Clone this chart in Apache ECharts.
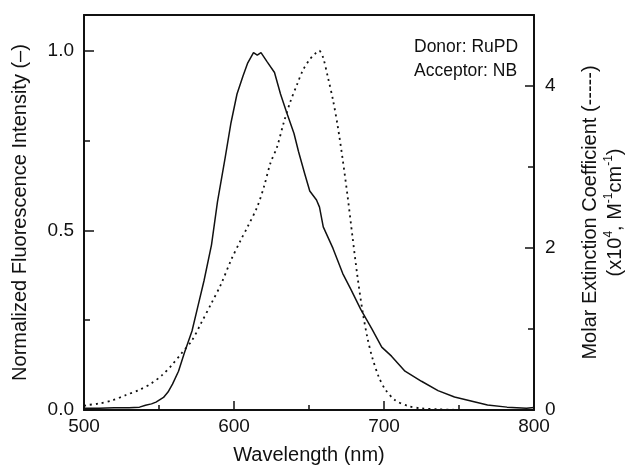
<!DOCTYPE html>
<html>
<head>
<meta charset="utf-8">
<script src="https://cdn.jsdelivr.net/npm/echarts@6/dist/echarts.min.js"></script>
<style>
  html, body { margin: 0; padding: 0; background: #fff; }
  #chart { width: 636px; height: 471px; }
</style>
</head>
<body>
<div id="chart"></div>
<script>
// fluorescence of donor (left axis, normalized)
const emWave = [500, 510, 520, 530, 537, 541, 545, 548, 553, 556, 559, 563, 567, 572, 576, 580, 585, 589, 594, 598,
  602, 606, 609, 613, 615.5, 618, 622, 627, 631, 635, 640, 643, 647, 650.5, 655, 657, 659.5, 666, 672.5, 678,
  684.5, 692, 698.5, 705, 714, 725, 736, 747, 758, 769, 782, 795, 800];
const emValue = [0.005, 0.005, 0.006, 0.006, 0.008, 0.013, 0.017, 0.022, 0.035, 0.05, 0.072, 0.108, 0.16, 0.22, 0.29, 0.36, 0.46, 0.58, 0.70, 0.80,
  0.88, 0.93, 0.965, 0.995, 0.988, 0.995, 0.97, 0.94, 0.88, 0.83, 0.77, 0.72, 0.66, 0.61, 0.585, 0.565, 0.51, 0.45, 0.38, 0.335,
  0.28, 0.225, 0.175, 0.15, 0.108, 0.08, 0.054, 0.036, 0.025, 0.014, 0.008, 0.005, 0.007];

// extinction of acceptor (right axis, x10^4 M-1 cm-1)
const absWave = [500, 502, 510, 519, 528, 537, 545, 552, 558.6, 565, 572, 578, 585, 591.5, 598, 604.5, 609, 615.5, 620, 624.3,
  628.7, 633, 637.4, 642, 646, 650.5, 654, 656.7, 659.3, 662.6, 666, 669.2, 672.5, 675.8, 679, 682.3, 685.6, 688.8, 692, 696.5,
  701, 707.5, 716, 725, 736, 750];
const absValue = [0.05, 0.06, 0.08, 0.12, 0.185, 0.25, 0.33, 0.43, 0.556, 0.70, 0.86, 1.07, 1.32, 1.56, 1.85, 2.10, 2.26, 2.51, 2.76, 3.05,
  3.25, 3.54, 3.8, 4.02, 4.2, 4.33, 4.40, 4.44, 4.36, 4.11, 3.83, 3.50, 3.09, 2.63, 2.14, 1.65, 1.23, 0.905, 0.66, 0.41,
  0.25, 0.12, 0.05, 0.02, 0.01, 0.0];

const noteLines = ['Donor: RuPD', 'Acceptor: NB'];

const fontName = '"Liberation Sans", Arial, Helvetica, sans-serif';
const ink = '#111';

const chart = echarts.init(document.getElementById('chart'));

const tick = len => ({show: true, inside: true, length: len, lineStyle: {color: ink, width: 1.5}});
const frame = {show: true, onZero: false, lineStyle: {color: ink, width: 2}};

chart.setOption({
  animation: false,
  backgroundColor: '#fff',
  grid: {left: 84, right: 95, top: 15, bottom: 61, containLabel: false},
  xAxis: [
    {
      type: 'value',
      min: 500,
      max: 800,
      interval: 100,
      name: 'Wavelength (nm)',
      nameLocation: 'middle',
      nameGap: 35,
      nameTextStyle: {fontFamily: fontName, fontSize: 20, color: ink},
      axisLine: frame,
      axisTick: tick(9),
      minorTick: {show: true, splitNumber: 2, length: 5, lineStyle: {color: ink, width: 1.5}},
      axisLabel: {fontFamily: fontName, fontSize: 19, color: ink, margin: 7},
      splitLine: {show: false},
    },
    {
      // top frame line
      type: 'value',
      position: 'top',
      min: 500,
      max: 800,
      axisLine: frame,
      axisTick: {show: false},
      axisLabel: {show: false},
      splitLine: {show: false},
    },
  ],
  yAxis: [
    {
      type: 'value',
      position: 'left',
      min: 0,
      max: 1.1,
      interval: 0.5,
      name: 'Normalized Fluorescence Intensity (–)',
      nameLocation: 'middle',
      nameRotate: 90,
      nameGap: 54,
      nameTextStyle: {fontFamily: fontName, fontSize: 20, color: ink},
      axisLine: frame,
      axisTick: tick(10),
      axisLabel: {fontFamily: fontName, fontSize: 19, color: ink, margin: 10, showMaxLabel: false,
        formatter: v => v.toFixed(1)},
      splitLine: {show: false},
    },
    {
      type: 'value',
      position: 'right',
      min: 0,
      max: 4.88,
      interval: 2,
      name: 'Molar Extinction Coefficient (-----)\n(x10{sup|4}, M{sup|-1}cm{sup|-1})',
      nameLocation: 'middle',
      nameRotate: 90,
      nameGap: 44,
      nameTextStyle: {fontFamily: fontName, fontSize: 20, color: ink, lineHeight: 25, align: 'center',
        rich: {sup: {fontFamily: fontName, fontSize: 12, color: ink, verticalAlign: 'top', lineHeight: 25}}},
      axisLine: frame,
      axisTick: tick(9),
      axisLabel: {fontFamily: fontName, fontSize: 19, color: ink, margin: 11, showMaxLabel: false},
      splitLine: {show: false},
    },
    {
      // minor ticks, left
      type: 'value',
      position: 'left',
      min: 0,
      max: 1.1,
      interval: 0.25,
      axisLine: {show: false, onZero: false},
      axisTick: tick(6),
      axisLabel: {show: false},
      splitLine: {show: false},
    },
    {
      // minor ticks, right
      type: 'value',
      position: 'right',
      min: 0,
      max: 4.88,
      interval: 1,
      axisLine: {show: false, onZero: false},
      axisTick: tick(6),
      axisLabel: {show: false},
      splitLine: {show: false},
    },
  ],
  graphic: [
    {
      type: 'text',
      left: 414,
      top: 35,
      style: {
        text: noteLines.join('\n'),
        font: '17.5px ' + fontName,
        fill: ink,
        lineHeight: 24,
      },
    },
  ],
  series: [
    {
      name: 'fluorescence',
      type: 'line',
      xAxisIndex: 0,
      yAxisIndex: 0,
      data: emWave.map((w, i) => [w, emValue[i]]),
      showSymbol: false,
      lineStyle: {color: ink, width: 1.5, type: 'solid'},
      z: 3,
    },
    {
      name: 'extinction',
      type: 'line',
      xAxisIndex: 0,
      yAxisIndex: 1,
      data: absWave.map((w, i) => [w, absValue[i]]),
      showSymbol: false,
      smooth: 0.3,
      lineStyle: {color: ink, width: 1.8, type: [2, 4]},
      z: 2,
    },
  ],
});
</script>
</body>
</html>
